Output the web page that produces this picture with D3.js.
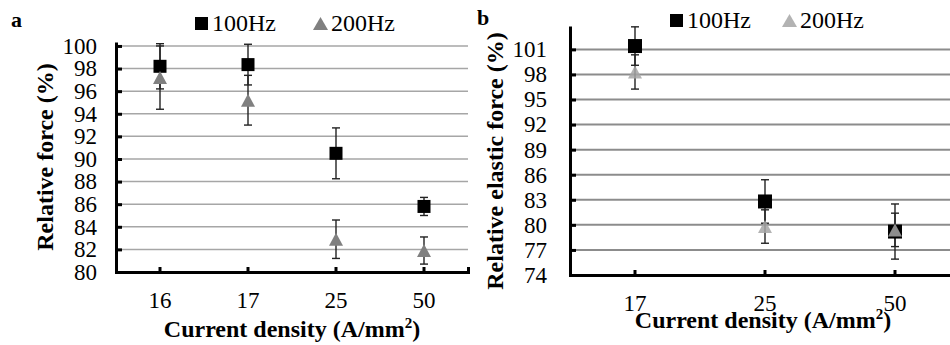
<!DOCTYPE html>
<html>
<head>
<meta charset="utf-8">
<script src="https://cdn.jsdelivr.net/npm/d3@7/dist/d3.min.js"></script>
<style>
  body { margin: 0; background: #fff; }
  svg { display: block; }
  text { font-family: "Liberation Serif", "Times New Roman", serif; fill: #000; }
</style>
</head>
<body>
<svg id="chart" width="950" height="345"></svg>
<script>
// panel a: relative force
const densityA = ['16', '17', '25', '50'];
const force100 = [98.2, 98.35, 90.5, 85.8];
const force100Err = [2.0, 1.8, 2.25, 0.8];
const force200 = [97.2, 95.2, 82.9, 81.9];
const force200Err = [2.8, 2.2, 1.7, 1.2];
const ticksA = [80, 82, 84, 86, 88, 90, 92, 94, 96, 98, 100];

// panel b: relative elastic force
const densityB = ['17', '25', '50'];
const elastic100 = [101.4, 82.8, 79.2];
const elastic100Err = [2.3, 2.6, 3.3];
const elastic200 = [98.3, 79.8, 79.4];
const elastic200Err = [2.05, 2.0, 2.0];
const ticksB = [74, 77, 80, 83, 86, 89, 92, 95, 98, 101];

const seriesNames = ['100Hz', '200Hz'];

const svg = d3.select('#chart');

function drawPanel(cfg) {
  const g = svg.append('g');

  const x = d3.scaleBand().domain(cfg.cats).range(cfg.xRange).padding(0);
  const y = d3.scaleLinear().domain(cfg.yDomain).range(cfg.yRange);
  const cx = c => x(c) + x.bandwidth() / 2;
  const gridEnd = Math.min(cfg.xRange[1], 950);

  // Horizontal gridlines
  g.selectAll('.grid')
    .data(cfg.ticks.slice(1))
    .enter().append('line')
    .attr('x1', cfg.xRange[0])
    .attr('x2', gridEnd)
    .attr('y1', d => y(d))
    .attr('y2', d => y(d))
    .attr('stroke', cfg.gridColor)
    .attr('stroke-width', cfg.gridWidth);

  // Y axis
  const yAxis = g.append('g')
    .attr('transform', `translate(${cfg.xRange[0]},0)`)
    .call(d3.axisLeft(y).tickValues(cfg.ticks).tickSizeInner(-6).tickSizeOuter(0).tickPadding(cfg.yPad));
  yAxis.select('.domain').attr('stroke', '#000').attr('stroke-width', 3);
  yAxis.selectAll('.tick line').attr('stroke', '#000').attr('stroke-width', 3);
  yAxis.selectAll('text').style('font-size', '23px').attr('fill', '#000')
    .attr('font-family', '"Liberation Serif", serif');

  // X axis (ticks point up)
  const xAxis = g.append('g')
    .attr('transform', `translate(0,${cfg.yRange[0]})`)
    .call(d3.axisBottom(x).tickSizeInner(-5).tickSizeOuter(-5).tickPadding(cfg.xPad));
  xAxis.select('.domain').attr('stroke', '#000').attr('stroke-width', 3);
  xAxis.selectAll('.tick line').attr('stroke', '#000').attr('stroke-width', 3);
  xAxis.selectAll('text').style('font-size', '23px').attr('fill', '#000')
    .attr('font-family', '"Liberation Serif", serif');

  const series = [
    { vals: cfg.s1, errs: cfg.e1 },
    { vals: cfg.s2, errs: cfg.e2 }
  ];

  // Error bars (drawn under markers)
  series.forEach(s => {
    const eb = g.selectAll(null)
      .data(cfg.cats.map((c, i) => ({ c, v: s.vals[i], e: s.errs[i] })))
      .enter().append('g')
      .attr('stroke', '#222')
      .attr('stroke-width', 1.4);
    eb.append('line')
      .attr('x1', d => cx(d.c)).attr('x2', d => cx(d.c))
      .attr('y1', d => y(d.v + d.e)).attr('y2', d => y(d.v - d.e));
    eb.append('line')
      .attr('x1', d => cx(d.c) - 4).attr('x2', d => cx(d.c) + 4)
      .attr('y1', d => y(d.v + d.e)).attr('y2', d => y(d.v + d.e));
    eb.append('line')
      .attr('x1', d => cx(d.c) - 4).attr('x2', d => cx(d.c) + 4)
      .attr('y1', d => y(d.v - d.e)).attr('y2', d => y(d.v - d.e));
  });

  // Squares
  const sq = cfg.sq;
  g.selectAll('.sq')
    .data(cfg.cats.map((c, i) => ({ c, v: cfg.s1[i] })))
    .enter().append('rect')
    .attr('x', d => cx(d.c) - sq / 2)
    .attr('y', d => y(d.v) - sq / 2)
    .attr('width', sq)
    .attr('height', sq)
    .attr('fill', '#000');

  // Triangles (bounding box centred on the value)
  const tw = cfg.triW, th = cfg.triH;
  const tri = `M0,${-th / 2}L${tw / 2},${th / 2}L${-tw / 2},${th / 2}Z`;
  g.selectAll('.tri')
    .data(cfg.cats.map((c, i) => ({ c, v: cfg.s2[i] })))
    .enter().append('path')
    .attr('d', tri)
    .attr('transform', d => `translate(${cx(d.c)},${y(d.v)})`)
    .attr('fill', cfg.triColor)
    .attr('fill-opacity', cfg.triOpacity);

  // Axis titles
  g.append('text')
    .attr('transform', `translate(${cfg.yTitlePos[0]},${cfg.yTitlePos[1]}) rotate(-90)`)
    .attr('text-anchor', 'middle')
    .style('font-size', '24px')
    .style('font-weight', 'bold')
    .text(cfg.yTitle);

  const xt = g.append('text')
    .attr('x', cfg.xTitlePos[0])
    .attr('y', cfg.xTitlePos[1])
    .attr('text-anchor', 'middle')
    .style('font-size', '24px')
    .style('font-weight', 'bold');
  xt.append('tspan').text('Current density (A/mm');
  xt.append('tspan').attr('dy', -9).style('font-size', '15px').text('2');
  xt.append('tspan').attr('dy', 9).text(')');

  // Panel letter
  g.append('text')
    .attr('x', cfg.letterPos[0])
    .attr('y', cfg.letterPos[1])
    .style('font-size', '22px')
    .style('font-weight', 'bold')
    .text(cfg.letter);

  // Legend
  const lg = g.append('g').attr('transform', `translate(${cfg.legendPos[0]},${cfg.legendPos[1]})`);
  lg.append('rect').attr('x', 0).attr('y', -14).attr('width', 13).attr('height', 13).attr('fill', '#000');
  lg.append('text').attr('x', 17).attr('y', 0).style('font-size', '24px').text(seriesNames[0]);
  lg.append('path')
    .attr('d', 'M0,-13L7.5,0L-7.5,0Z')
    .attr('transform', `translate(${cfg.legendGap + 7.5},-1)`)
    .attr('fill', cfg.triColor)
    .attr('fill-opacity', cfg.triOpacity);
  lg.append('text').attr('x', cfg.legendGap + 18).attr('y', 0).style('font-size', '24px').text(seriesNames[1]);
}

drawPanel({
  cats: densityA, s1: force100, e1: force100Err, s2: force200, e2: force200Err,
  ticks: ticksA, yDomain: [80, 100.35], yRange: [272, 42], xRange: [116, 468],
  gridColor: '#a6a6a6', gridWidth: 1.5, triColor: '#808080', triOpacity: 1,
  sq: 13, triW: 14, triH: 13, yPad: 19, xPad: 20,
  yTitle: 'Relative force (%)', yTitlePos: [53, 157],
  xTitlePos: [292, 337], letter: 'a', letterPos: [11, 27],
  legendPos: [195, 31], legendGap: 118
});

drawPanel({
  cats: densityB, s1: elastic100, e1: elastic100Err, s2: elastic200, e2: elastic200Err,
  ticks: ticksB, yDomain: [74, 103.8], yRange: [275, 26], xRange: [570, 960],
  gridColor: '#8c8c8c', gridWidth: 2, triColor: '#a6a6a6', triOpacity: 0.85,
  sq: 14, triW: 14, triH: 13, yPad: 23, xPad: 20,
  yTitle: 'Relative elastic force (%)', yTitlePos: [503, 161],
  xTitlePos: [763, 328], letter: 'b', letterPos: [477, 25],
  legendPos: [670, 28], legendGap: 112
});
</script>
</body>
</html>
